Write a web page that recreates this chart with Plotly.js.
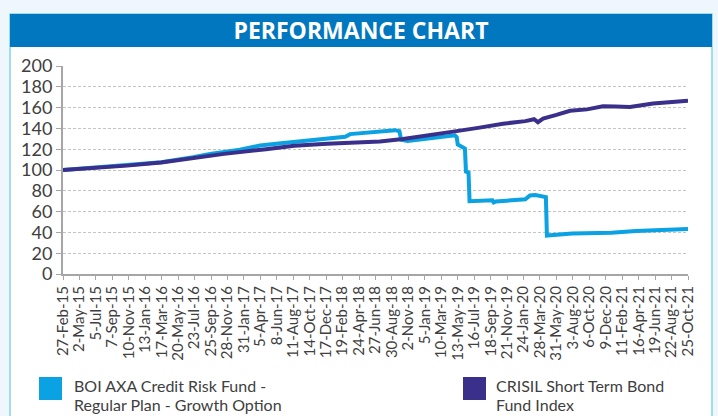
<!DOCTYPE html>
<html>
<head>
<meta charset="utf-8">
<script src="https://cdn.plot.ly/plotly-3.0.1.min.js"></script>
<style>
  html, body { margin: 0; padding: 0; background: #EEF7FB; }
  #chart { width: 718px; height: 416px; }
</style>
</head>
<body>
<div id="chart"></div>
<script>
// ---- Data ----
const fundNameL1 = "BOI AXA Credit Risk Fund -";
const fundNameL2 = "Regular Plan - Growth Option";
const benchNameL1 = "CRISIL Short Term Bond";
const benchNameL2 = "Fund Index";

const fundDates = [
  "2015-02-27","2015-06-30","2015-11-03","2016-03-15","2016-07-17","2016-09-21",
  "2017-01-15","2017-04-04","2017-06-15","2017-08-15","2017-12-20","2018-03-01",
  "2018-03-20","2018-07-14","2018-09-11","2018-09-28","2018-10-05","2018-10-30",
  "2018-12-31","2019-04-01","2019-05-02","2019-05-09","2019-05-13","2019-06-01",
  "2019-06-10","2019-06-14","2019-06-24","2019-06-28","2019-09-25","2019-09-30",
  "2019-10-08","2020-01-31","2020-02-18","2020-03-10","2020-04-05","2020-04-20",
  "2020-04-24","2020-06-30","2020-07-31","2020-12-31","2021-03-13","2021-04-05",
  "2021-07-15","2021-10-25"
];
const fundValues = [
  100.0, 102.2, 104.6, 107.5, 112.3, 115.3,
  119.5, 123.5, 125.5, 127.2, 130.2, 132.0,
  134.5, 136.5, 138.3, 137.3, 129.0, 128.0,
  130.0, 133.0, 133.3, 131.5, 124.5, 122.0,
  120.5, 98.5, 97.5, 70.0, 70.8, 68.8,
  69.8, 71.8, 75.5, 76.0, 75.0, 74.0,
  37.0, 37.8, 39.0, 39.6, 40.2, 41.3,
  42.3, 43.2
];

const benchDates = [
  "2015-02-27","2015-06-30","2015-11-03","2016-03-15","2016-07-17","2016-11-15",
  "2017-04-27","2017-08-15","2017-12-20","2018-03-20","2018-07-14","2018-10-12",
  "2019-01-15","2019-04-25","2019-07-31","2019-11-05","2020-01-31","2020-03-05",
  "2020-03-20","2020-04-09","2020-05-31","2020-07-23","2020-09-27","2020-11-28",
  "2021-01-15","2021-03-13","2021-06-11","2021-08-20","2021-10-25"
];
const benchValues = [
  100.0, 102.0, 104.2, 107.2, 111.8, 115.5,
  120.0, 123.3, 125.2, 126.2, 127.5, 129.8,
  132.8, 136.9, 140.5, 144.5, 147.0, 148.8,
  146.0, 149.5, 153.0, 157.0, 158.3, 161.2,
  161.0, 160.5, 164.0, 165.5, 166.7
];

const tickDates = [
  "2015-02-27","2015-05-02","2015-07-05","2015-09-07","2015-11-10","2016-01-13",
  "2016-03-17","2016-05-20","2016-07-23","2016-09-25","2016-11-28","2017-01-31",
  "2017-04-05","2017-06-08","2017-08-11","2017-10-14","2017-12-17","2018-02-19",
  "2018-04-24","2018-06-27","2018-08-30","2018-11-02","2019-01-05","2019-03-10",
  "2019-05-13","2019-07-16","2019-09-18","2019-11-21","2020-01-24","2020-03-28",
  "2020-05-31","2020-08-03","2020-10-06","2020-12-09","2021-02-11","2021-04-16",
  "2021-06-19","2021-08-22","2021-10-25"
];
const tickLabels = [
  "27-Feb-15","2-May-15","5-Jul-15","7-Sep-15","10-Nov-15","13-Jan-16",
  "17-Mar-16","20-May-16","23-Jul-16","25-Sep-16","28-Nov-16","31-Jan-17",
  "5-Apr-17","8-Jun-17","11-Aug-17","14-Oct-17","17-Dec-17","19-Feb-18",
  "24-Apr-18","27-Jun-18","30-Aug-18","2-Nov-18","5-Jan-19","10-Mar-19",
  "13-May-19","16-Jul-19","18-Sep-19","21-Nov-19","24-Jan-20","28-Mar-20",
  "31-May-20","3-Aug-20","6-Oct-20","9-Dec-20","11-Feb-21","16-Apr-21",
  "19-Jun-21","22-Aug-21","25-Oct-21"
];
const yTicks = [0, 20, 40, 60, 80, 100, 120, 140, 160, 180, 200];

// ---- Layout helpers (pixel -> paper coordinates) ----
const W = 718, H = 416;
const ML = 63, MR = 30, MT = 66, MB = 142;
const PW = W - ML - MR, PH = H - MT - MB;
const px = v => (v - ML) / PW;
const py = v => (H - MB - v) / PH;

const fundColor = "#0AA2E2";
const benchColor = "#3A2F8A";
const textColor = "#404040";
const font = "Lato, 'Open Sans', sans-serif";

const traces = [
  { x: fundDates, y: fundValues, type: "scatter", mode: "lines",
    name: fundNameL1 + " " + fundNameL2,
    line: { color: fundColor, width: 4 }, showlegend: false, hoverinfo: "skip" },
  { x: benchDates, y: benchValues, type: "scatter", mode: "lines",
    name: benchNameL1 + " " + benchNameL2,
    line: { color: benchColor, width: 4 }, showlegend: false, hoverinfo: "skip" }
];

function legendText(x, yBase, text) {
  return { xref: "paper", yref: "paper", x: px(x), y: py(yBase), xanchor: "left",
    yanchor: "bottom", align: "left", showarrow: false, text: text,
    font: { family: font, size: 16, color: textColor } };
}

const layout = {
  width: W, height: H,
  margin: { l: ML, r: MR, t: MT, b: MB, pad: 0 },
  paper_bgcolor: "#EEF7FB",
  plot_bgcolor: "#FFFFFF",
  font: { family: font, color: textColor },
  title: {
    text: "<b>PERFORMANCE CHART</b>",
    font: { family: "'Open Sans', sans-serif", size: 23, color: "#FFFFFF" },
    xref: "container", yref: "container",
    x: 361 / W, y: 1 - 31 / H, xanchor: "center", yanchor: "middle"
  },
  xaxis: {
    type: "date",
    range: [tickDates[0], tickDates[tickDates.length - 1]],
    tickmode: "array", tickvals: tickDates, ticktext: tickLabels,
    tickangle: -90, tickfont: { size: 15, color: textColor, family: font },
    ticks: "outside", ticklen: 4, tickcolor: "#A6A6A6", tickwidth: 1,
    showline: true, linecolor: "#A6A6A6", linewidth: 2,
    showgrid: false, zeroline: false, automargin: false
  },
  yaxis: {
    range: [0, 200], tickmode: "array", tickvals: yTicks,
    tickfont: { size: 18, color: textColor, family: font },
    ticks: "outside", ticklen: 5, tickcolor: "#A6A6A6",
    showline: true, linecolor: "#A6A6A6", linewidth: 2,
    showgrid: true, gridcolor: "#C4C4C4", gridwidth: 1, griddash: "3px,2px",
    zeroline: false, automargin: false
  },
  shapes: [
    { type: "rect", xref: "paper", yref: "paper", layer: "below",
      x0: px(10), x1: px(712), y0: py(470), y1: py(14),
      fillcolor: "#FFFFFF", line: { color: "#86D2E6", width: 1.5 } },
    { type: "rect", xref: "paper", yref: "paper", layer: "below",
      x0: px(10), x1: px(712), y0: py(47), y1: py(14),
      fillcolor: "#0077BE", line: { width: 0 } },
    { type: "rect", xref: "paper", yref: "paper",
      x0: px(39), x1: px(62), y0: py(400), y1: py(377),
      fillcolor: fundColor, line: { width: 0 } },
    { type: "rect", xref: "paper", yref: "paper",
      x0: px(463), x1: px(486), y0: py(400), y1: py(377),
      fillcolor: benchColor, line: { width: 0 } }
  ],
  annotations: [
    legendText(72, 397, fundNameL1),
    legendText(72, 416, fundNameL2),
    legendText(494, 397, benchNameL1),
    legendText(494, 416, benchNameL2)
  ]
};

Plotly.newPlot("chart", traces, layout, { staticPlot: true, displayModeBar: false });
</script>
</body>
</html>
